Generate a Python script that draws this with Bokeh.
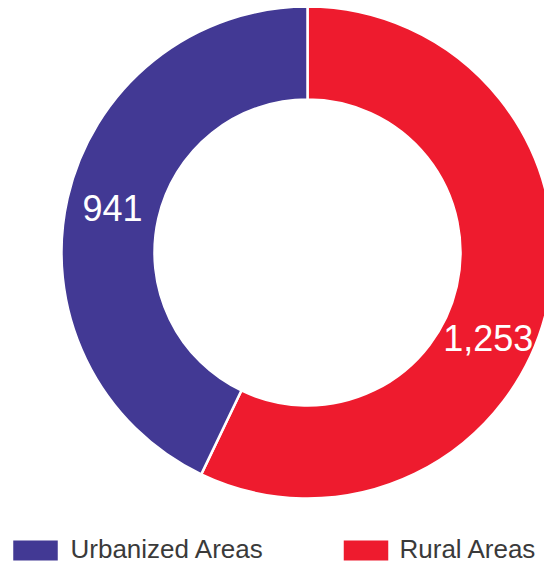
import math
from bokeh.plotting import figure
from bokeh.models import ColumnDataSource, Range1d
from bokeh.core.properties import value
from bokeh.embed import file_html
from bokeh.resources import INLINE

categories = ["Rural Areas", "Urbanized Areas"]
values = [1253, 941]
labels = ["1,253", "941"]
colors = ["#EE1B2E", "#423994"]

legend_order = ["Urbanized Areas", "Rural Areas"]

W, H = 544, 562
CX, CY = 307, H - 252
R_OUT, R_IN = 246, 153
LABEL_R = 200
label_shift = [-12.5, 0.0]  # degrees, per slice

total = sum(values)
starts, ends = [], []
cur = 90.0  # start at 12 o'clock, go clockwise
for v in values:
    sweep = 360.0 * v / total
    ends.append(math.radians(cur))
    starts.append(math.radians(cur - sweep))
    cur -= sweep

lx, ly = [], []
for s, e, sh in zip(starts, ends, label_shift):
    mid = (s + e) / 2 + math.radians(sh)
    lx.append(CX + LABEL_R * math.cos(mid))
    ly.append(CY + LABEL_R * math.sin(mid))

src = ColumnDataSource(dict(start=starts, end=ends, color=colors,
                            lx=lx, ly=ly, label=labels))

p = figure(width=W, height=H, output_backend="svg", toolbar_location=None,
           x_range=Range1d(0, W), y_range=Range1d(0, H), min_border=0)
p.axis.visible = False
p.grid.visible = False
p.outline_line_color = None

p.annular_wedge(x=CX, y=CY, inner_radius=R_IN, outer_radius=R_OUT,
                start_angle="start", end_angle="end", fill_color="color",
                line_color="white", line_width=2.5, source=src)

p.text(x="lx", y="ly", text="label", source=src, text_color="white",
       text_font=value("Liberation Sans"), text_font_size="36px",
       text_align="center", text_baseline="middle")

# legend
leg_color = {c: col for c, col in zip(categories, colors)}
sq_x = [35, 365.5]
txt_x = [70, 399]
p.rect(x=sq_x, y=[12, 12], width=44.5, height=20,
       fill_color=[leg_color[c] for c in legend_order], line_color=None)
p.text(x=txt_x, y=[14, 14], text=legend_order, text_color="#3a3a3a",
       text_font=value("Liberation Sans"), text_font_size="26px",
       text_align="left", text_baseline="middle")

open("out.html", "w").write(file_html(p, INLINE))
